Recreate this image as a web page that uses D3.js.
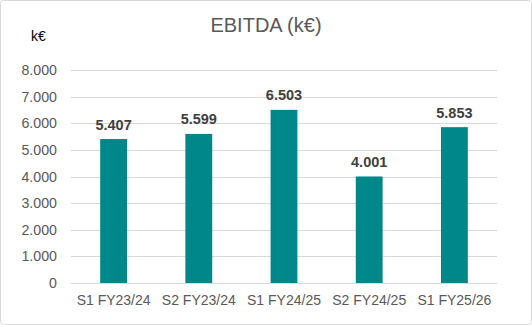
<!DOCTYPE html>
<html>
<head>
<meta charset="utf-8">
<script src="https://cdn.jsdelivr.net/npm/d3@7"></script>
<style>
  html, body { margin: 0; padding: 0; background: #fff; }
  svg { display: block; font-family: "Liberation Sans", Arial, sans-serif; }
</style>
</head>
<body>
<svg id="chart" width="532" height="325"></svg>
<script>
// Half-year EBITDA, in thousands of euros
const categories = ["S1 FY23/24", "S2 FY23/24", "S1 FY24/25", "S2 FY24/25", "S1 FY25/26"];
const values = [5407, 5599, 6503, 4001, 5853];
const tickValues = [0, 1000, 2000, 3000, 4000, 5000, 6000, 7000, 8000];

const fmt = v => v === 0 ? "0" : d3.format(",")(v).replace(/,/g, ".");

const svg = d3.select("#chart");
const W = 532, H = 325;
const margin = { left: 71, right: 35, top: 70, bottom: 42 };
const FONT = "Liberation Sans, Arial, sans-serif";

// Chart frame
svg.append("rect")
  .attr("x", 0.5).attr("y", 0.5)
  .attr("width", W - 1).attr("height", H - 1)
  .attr("rx", 3)
  .attr("fill", "#fff")
  .attr("stroke", "#d9d9d9");

const x = d3.scaleBand()
  .domain(categories)
  .range([margin.left, W - margin.right])
  .paddingInner(0.685)
  .paddingOuter(0.3425);

const y = d3.scaleLinear()
  .domain([0, 8000])
  .range([H - margin.bottom, margin.top]);

// Gridlines
svg.append("g")
  .selectAll("line")
  .data(tickValues)
  .join("line")
  .attr("x1", margin.left).attr("x2", W - margin.right)
  .attr("y1", d => Math.round(y(d)) + 0.5)
  .attr("y2", d => Math.round(y(d)) + 0.5)
  .attr("stroke", "#d9d9d9")
  .attr("stroke-width", 1);

// Y axis labels
const yAxis = d3.axisLeft(y).tickValues(tickValues).tickFormat(fmt).tickSize(0).tickPadding(0);
svg.append("g")
  .attr("transform", `translate(${margin.left - 14},0)`)
  .call(yAxis)
  .call(g => g.select(".domain").remove())
  .call(g => g.selectAll("text")
    .attr("fill", "#595959")
    .attr("font-size", 14.2)
    .attr("font-family", FONT));

// X axis labels
const xAxis = d3.axisBottom(x).tickSize(0).tickPadding(0);
svg.append("g")
  .attr("transform", `translate(0,${H - margin.bottom + 12.5})`)
  .call(xAxis)
  .call(g => g.select(".domain").remove())
  .call(g => g.selectAll("text")
    .attr("fill", "#595959")
    .attr("font-size", 14)
    .attr("font-family", FONT));

// Bars
svg.append("g")
  .selectAll("rect")
  .data(values)
  .join("rect")
  .attr("x", (d, i) => x(categories[i]))
  .attr("y", d => y(d))
  .attr("width", x.bandwidth())
  .attr("height", d => y(0) - y(d))
  .attr("fill", "#00878A");

// Value labels
svg.append("g")
  .selectAll("text")
  .data(values)
  .join("text")
  .attr("x", (d, i) => x(categories[i]) + x.bandwidth() / 2)
  .attr("y", d => y(d) - 9.5)
  .attr("text-anchor", "middle")
  .attr("font-size", 14.5)
  .attr("font-weight", "bold")
  .attr("fill", "#404040")
  .text(fmt);

// Title
svg.append("text")
  .attr("x", 266).attr("y", 32)
  .attr("text-anchor", "middle")
  .attr("font-size", 20)
  .attr("fill", "#595959")
  .text("EBITDA (k€)");

// Unit label
svg.append("text")
  .attr("x", 31).attr("y", 41)
  .attr("font-size", 14)
  .attr("fill", "#000")
  .text("k€");
</script>
</body>
</html>
